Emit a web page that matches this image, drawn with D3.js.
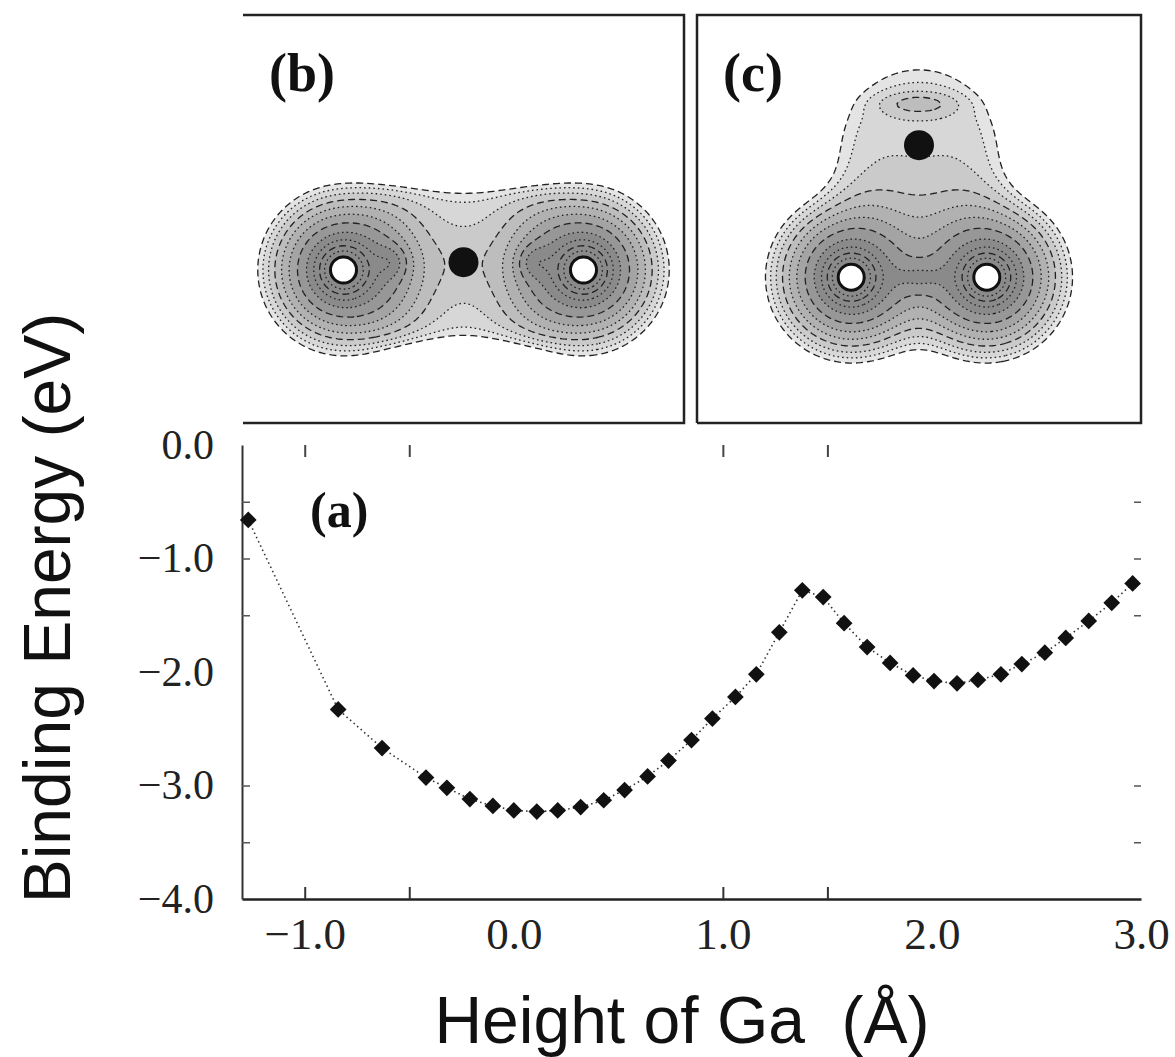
<!DOCTYPE html>
<html lang="en">
<head>
<meta charset="utf-8">
<title>Binding energy vs. height of Ga</title>
<script src="https://cdn.jsdelivr.net/npm/d3@7"></script>
<style>
  body { margin: 0; background: #fff; }
  svg { display: block; }
</style>
</head>
<body>
<script>

// ---- panel (a): binding energy curve ----
var heightGa = [-1.27, -0.84, -0.63, -0.42, -0.32, -0.21, -0.10, 0.00, 0.11, 0.21,
                0.32, 0.43, 0.53, 0.64, 0.74, 0.85, 0.95, 1.06, 1.16, 1.27,
                1.38, 1.48, 1.58, 1.69, 1.80, 1.91, 2.01, 2.12, 2.22, 2.33,
                2.43, 2.54, 2.64, 2.75, 2.86, 2.96];
var bindingEnergy = [-0.66, -2.33, -2.67, -2.93, -3.02, -3.12, -3.18, -3.22, -3.23, -3.22,
                     -3.19, -3.13, -3.04, -2.92, -2.78, -2.60, -2.41, -2.22, -2.02, -1.65,
                     -1.28, -1.34, -1.57, -1.78, -1.92, -2.03, -2.08, -2.10, -2.07, -2.02,
                     -1.93, -1.83, -1.70, -1.55, -1.39, -1.22];

var xLabelValues = [-1, 0, 1, 2, 3];
var xTickValues = [-1, -0.5, 1, 1.5];
var yLabelValues = [0, -1, -2, -3, -4];
var yTickValues = [-0.5, -1, -1.5, -3, -3.5];

// ---- panels (b), (c): charge density maps ----
// atom positions in panel units (y up); w, s = weight and width, p = profile exponent
var atomsB = [
  { el: "As", x: -2.0, y: -0.85, w: 1.0, s: 1.0, p: 2 },
  { el: "As", x:  2.0, y: -0.85, w: 1.0, s: 1.0, p: 2 },
  { el: "Ga", x:  0.0, y: -0.72, w: 0.05, s: 0.6, p: 2 }
];
var lobesB = [
  { x: -1.22, y: -0.72, w: 0.25, sx: 0.25, sy: 0.25 },
  { x:  1.19, y: -0.72, w: 0.25, sx: 0.25, sy: 0.25 }
];
var bondsB = [ { x: 0, y: -0.75, ax: 1.6, ay: 1.35, w: 0.17 } ];

var atomsC = [
  { el: "As", x: -1.13, y: -0.97, w: 1.0, s: 1.0, p: 2 },
  { el: "As", x:  1.13, y: -0.97, w: 1.0, s: 1.0, p: 2 },
  { el: "Ga", x:  0.0,  y:  1.23, w: 0.2, s: 1.55, p: 4 }
];
var lobesC = [
  { x: 0, y: -0.97, w: 0.2, sx: 0.4, sy: 0.25 },
  { x: 0, y:  1.92, w: 0.12, sx: 0.6, sy: 0.18 }
];
var bondsC = [];

var densityLevels = [0.13, 0.165, 0.21, 0.27, 0.345, 0.44, 0.56, 0.72, 0.92, 1.18, 1.5, 1.92];

var W = 1175, H = 1057;
var svg = d3.select("body").append("svg")
            .attr("width", W)
            .attr("height", H);

// ============ panel (a) ============
var x = d3.scaleLinear().domain([-1.3, 3.0]).range([242, 1141]);
var y = d3.scaleLinear().domain([-4, 0]).range([899, 445]);

// bottom axis line + inward ticks
svg.append("g")
   .attr("transform", "translate(0," + y(-4) + ")")
   .call(d3.axisBottom(x).tickValues(xTickValues).tickSize(-12).tickSizeOuter(0).tickFormat(""))
   .call(function(g) {
     g.select(".domain").attr("stroke", "#222").attr("stroke-width", 2.5);
     g.selectAll(".tick line").attr("stroke", "#333").attr("stroke-width", 2);
   });

// bottom labels
svg.append("g")
   .attr("transform", "translate(0," + y(-4) + ")")
   .call(d3.axisBottom(x).tickValues(xLabelValues).tickSize(0).tickPadding(18).tickFormat(d3.format(".1f")))
   .call(function(g) {
     g.select(".domain").remove();
     g.selectAll("text").attr("font-size", 45).attr("font-family", "Liberation Serif").attr("fill", "#222");
   });

// top ticks (no line)
svg.append("g")
   .attr("transform", "translate(0," + y(0) + ")")
   .call(d3.axisTop(x).tickValues(xTickValues).tickSize(-12).tickFormat(""))
   .call(function(g) {
     g.select(".domain").remove();
     g.selectAll(".tick line").attr("stroke", "#444").attr("stroke-width", 2);
   });

// left axis line + ticks
svg.append("g")
   .attr("transform", "translate(" + x(-1.3) + ",0)")
   .call(d3.axisLeft(y).tickValues(yTickValues).tickSize(-8).tickSizeOuter(0).tickFormat(""))
   .call(function(g) {
     g.select(".domain").attr("stroke", "#333").attr("stroke-width", 2);
     g.selectAll(".tick line").attr("stroke", "#555").attr("stroke-width", 1.5);
   });

// left labels
svg.append("g")
   .attr("transform", "translate(" + x(-1.3) + ",0)")
   .call(d3.axisLeft(y).tickValues(yLabelValues).tickSize(0).tickPadding(28).tickFormat(d3.format(".1f")))
   .call(function(g) {
     g.select(".domain").remove();
     g.selectAll("text").attr("font-size", 42).attr("font-family", "Liberation Serif").attr("fill", "#222");
   });

// right ticks
svg.append("g")
   .attr("transform", "translate(" + x(3.0) + ",0)")
   .call(d3.axisLeft(y).tickValues(yTickValues).tickSize(7).tickFormat(""))
   .call(function(g) {
     g.select(".domain").remove();
     g.selectAll(".tick line").attr("stroke", "#555").attr("stroke-width", 1.5);
   });

var points = heightGa.map(function(h, i) { return [h, bindingEnergy[i]]; });

svg.append("path")
   .datum(points)
   .attr("fill", "none")
   .attr("stroke", "#333")
   .attr("stroke-width", 1.6)
   .attr("stroke-dasharray", "1.5,3.2")
   .attr("d", d3.line().x(function(d) { return x(d[0]); }).y(function(d) { return y(d[1]); }));

svg.selectAll("path.marker")
   .data(points)
   .enter()
   .append("path")
   .attr("class", "marker")
   .attr("d", d3.symbol().type(d3.symbolSquare).size(140))
   .attr("transform", function(d) { return "translate(" + x(d[0]) + "," + y(d[1]) + ") rotate(45)"; })
   .attr("fill", "#111");

svg.append("text")
   .attr("x", 310).attr("y", 527)
   .attr("font-family", "Liberation Serif").attr("font-weight", "bold")
   .attr("font-size", 50).attr("fill", "#111")
   .text("(a)");

// axis titles
svg.append("text")
   .attr("transform", "translate(70,608) rotate(-90)")
   .attr("text-anchor", "middle")
   .attr("font-family", "Liberation Sans").attr("font-size", 66).attr("fill", "#111")
   .text("Binding Energy (eV)");

svg.append("text")
   .attr("x", 682).attr("y", 1043)
   .attr("text-anchor", "middle")
   .attr("font-family", "Liberation Sans").attr("font-size", 66).attr("fill", "#111")
   .text("Height of Ga\u00a0 (\u00c5)");

// ============ panels (b), (c) ============
var gray = d3.scaleLinear().domain([0, 7]).range(["#e4e4e4", "#8a8a8a"]).clamp(true);

function drawPanel(box, atoms, lobes, bonds, label, leftSide) {
  var g = svg.append("g").attr("transform", "translate(" + box.x0 + "," + box.y0 + ")");
  var pu = d3.scaleLinear().domain([-box.w / 120, box.w / 120]).range([0, box.w]);
  var pv = d3.scaleLinear().domain([box.h / 120, -box.h / 120]).range([0, box.h]);

  var step = 3;
  var n = Math.ceil(box.w / step), m = Math.ceil(box.h / step);
  var values = new Array(n * m);
  for (var j = 0; j < m; j++) {
    for (var i = 0; i < n; i++) {
      var u = pu.invert((i + 0.5) * step), v = pv.invert((j + 0.5) * step);
      var d = 0;
      atoms.forEach(function(a) {
        var r2 = (u - a.x) * (u - a.x) + (v - a.y) * (v - a.y);
        d += a.w * Math.exp(-Math.pow(r2 / (a.s * a.s), a.p / 2));
        if (a.el === "As") d += 1.6 * Math.exp(-r2 / 0.1);
      });
      lobes.forEach(function(l) {
        var dx = (u - l.x) / l.sx, dy = (v - l.y) / l.sy;
        d += l.w * Math.exp(-(dx * dx + dy * dy));
      });
      bonds.forEach(function(b) {
        var dx = (u - b.x) / b.ax, dy = (v - b.y) / b.ay;
        d += b.w * Math.exp(-(Math.pow(dx, 4) + Math.pow(dy, 8)));
      });
      values[j * n + i] = d;
    }
  }

  var contours = d3.contours().size([n, m]).thresholds(densityLevels)(values);
  var path = d3.geoPath(d3.geoIdentity().scale(step));

  g.selectAll("path.band")
   .data(contours)
   .enter()
   .append("path")
   .attr("class", "band")
   .attr("d", path)
   .attr("fill", function(c, k) { return gray(k); })
   .attr("stroke", "#222")
   .attr("stroke-width", 1.3)
   .attr("stroke-dasharray", function(c, k) { return k % 3 === 0 ? "7,4" : "1.6,3"; });

  g.selectAll("circle.atom")
   .data(atoms)
   .enter()
   .append("circle")
   .attr("class", "atom")
   .attr("cx", function(a) { return pu(a.x); })
   .attr("cy", function(a) { return pv(a.y); })
   .attr("r", function(a) { return a.el === "As" ? 13 : 15; })
   .attr("fill", function(a) { return a.el === "As" ? "#fff" : "#111"; })
   .attr("stroke", "#111")
   .attr("stroke-width", function(a) { return a.el === "As" ? 3 : 0; });

  // frame (panel b has no left edge)
  var p = d3.path();
  if (leftSide) {
    p.moveTo(0, box.h); p.lineTo(0, 0);
  } else {
    p.moveTo(0, 0);
  }
  p.lineTo(box.w, 0); p.lineTo(box.w, box.h); p.lineTo(0, box.h);
  g.append("path").attr("d", p.toString())
   .attr("fill", "none").attr("stroke", "#222").attr("stroke-width", 2.5);

  g.append("text")
   .attr("x", 26).attr("y", 76)
   .attr("font-family", "Liberation Serif").attr("font-weight", "bold")
   .attr("font-size", 54).attr("fill", "#111")
   .text(label);
}

drawPanel({ x0: 243, y0: 15, w: 441, h: 408 }, atomsB, lobesB, bondsB, "(b)", false);
drawPanel({ x0: 697, y0: 15, w: 444, h: 408 }, atomsC, lobesC, bondsC, "(c)", true);

</script>
</body>
</html>
